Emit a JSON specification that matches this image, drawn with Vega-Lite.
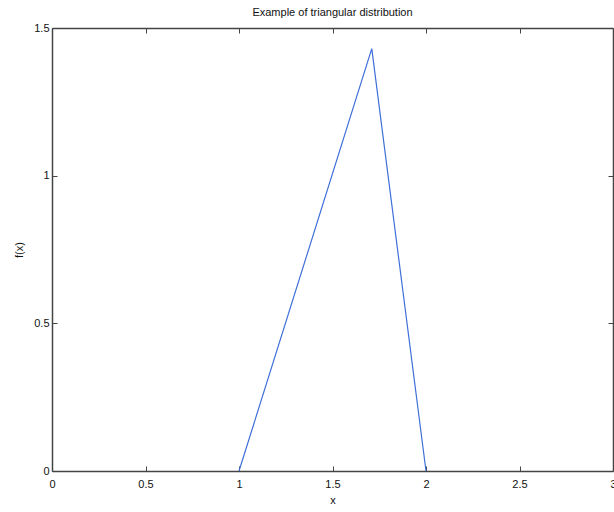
{
  "$schema": "https://vega.github.io/schema/vega-lite/v6.json",
  "width": 561,
  "height": 443,
  "autosize": {"type": "none"},
  "padding": {"left": 52, "top": 28, "right": 1, "bottom": 41},
  "background": "white",
  "title": {"text": "Example of triangular distribution", "font": "Liberation Sans", "fontSize": 11, "fontWeight": "normal", "color": "#111111", "offset": 4},
  "config": {
    "view": {"stroke": null},
    "axis": {
      "domainColor": "#444444",
      "domainWidth": 1.5,
      "tickColor": "#444444",
      "tickSize": -5,
      "tickWidth": 1,
      "grid": false,
      "labelFont": "Liberation Sans",
      "labelFontSize": 11,
      "labelColor": "#111111",
      "titleFont": "Liberation Sans",
      "titleFontSize": 11,
      "titleFontWeight": "normal",
      "titleColor": "#111111",
      "labelFlush": false,
      "labelOverlap": false
    }
  },
  "data": {"values": [
    {"x": 1, "y": 0},
    {"x": 1.71, "y": 1.43},
    {"x": 2, "y": 0}
  ]},
  "layer": [
    {
      "mark": {"type": "line", "color": "#3f6fd8", "strokeWidth": 1.2},
      "encoding": {
        "x": {"field": "x", "type": "quantitative", "scale": {"domain": [0, 3], "nice": false, "zero": false},
              "axis": {"orient": "bottom", "title": "x", "values": [0, 0.5, 1, 1.5, 2, 2.5, 3], "format": "~g", "labelPadding": 12, "titlePadding": 5}},
        "y": {"field": "y", "type": "quantitative", "scale": {"domain": [0, 1.5], "nice": false},
              "axis": {"orient": "left", "title": "f(x)", "values": [0, 0.5, 1, 1.5], "format": "~g", "labelPadding": 8, "titlePadding": 9}}
      }
    },
    {
      "mark": {"type": "line", "opacity": 0},
      "encoding": {
        "x": {"field": "x", "type": "quantitative", "scale": {"domain": [0, 3], "nice": false, "zero": false},
              "axis": {"orient": "top", "title": null, "labels": false, "values": [0, 0.5, 1, 1.5, 2, 2.5, 3]}},
        "y": {"field": "y", "type": "quantitative", "scale": {"domain": [0, 1.5], "nice": false},
              "axis": {"orient": "right", "title": null, "labels": false, "values": [0, 0.5, 1, 1.5]}}
      }
    }
  ],
  "resolve": {"axis": {"x": "independent", "y": "independent"}}
}
